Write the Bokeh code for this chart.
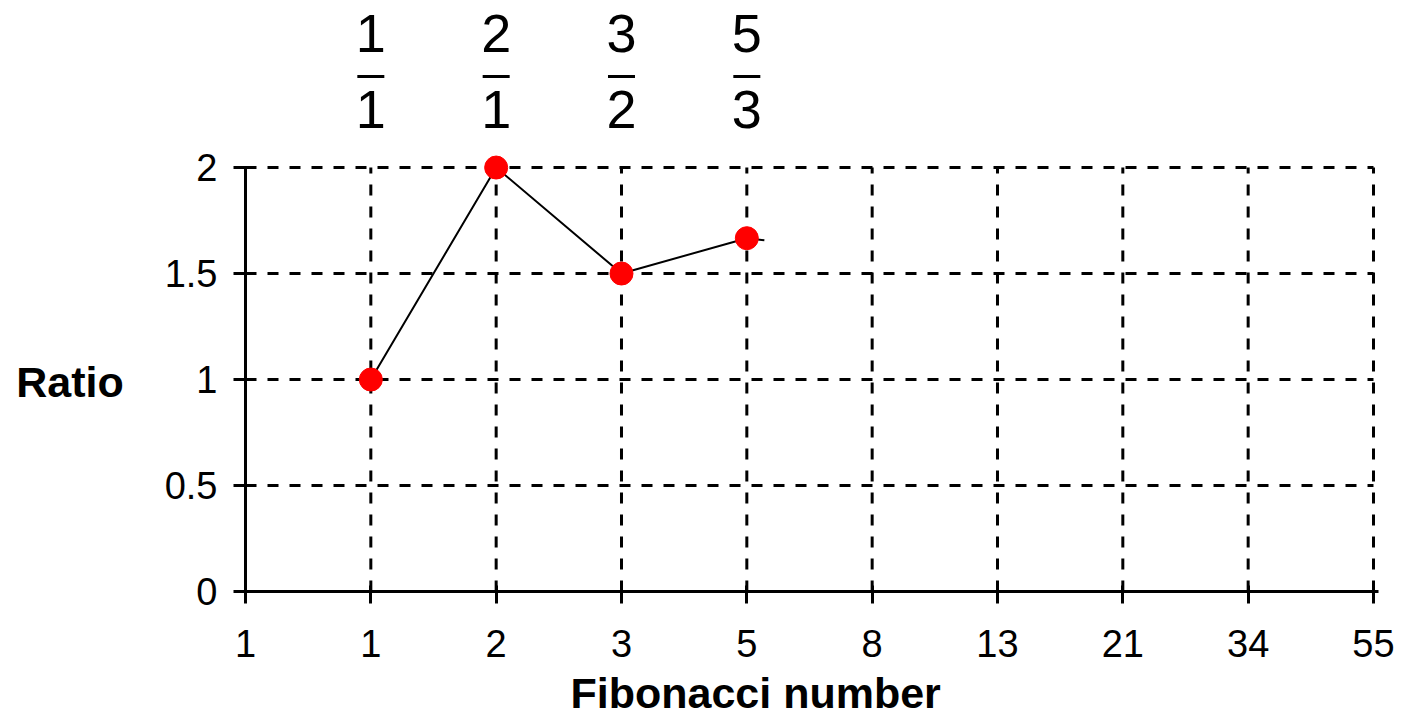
from bokeh.plotting import figure
from bokeh.models import Range1d, FixedTicker, Title
from bokeh.core.properties import value
from bokeh.embed import file_html
from bokeh.resources import INLINE

# Fibonacci sequence shown along the x axis (one slot per term)
fib_labels = ["1", "1", "2", "3", "5", "8", "13", "21", "34", "55"]
x_index = list(range(len(fib_labels)))

# Consecutive-term ratios plotted so far: F(n+1)/F(n)
numerators = [1, 2, 3, 5]
denominators = [1, 1, 2, 3]
point_index = [1, 2, 3, 4]
ratios = [n / d for n, d in zip(numerators, denominators)]

# the line is being drawn on toward the next ratio, 8/5
next_num, next_den = 8, 5
stub = 0.14  # fraction of the next segment already drawn

y_ticks = [0, 0.5, 1, 1.5, 2]
y_tick_labels = ["0", "0.5", "1", "1.5", "2"]

FONT = "Liberation Sans"

p = figure(width=1402, height=723, output_backend="svg", toolbar_location=None,
           x_range=Range1d(0, 9.04), y_range=Range1d(0, 2.788),
           min_border_left=245, min_border_right=24,
           min_border_top=0, min_border_bottom=132)
p.outline_line_color = None
p.background_fill_color = "white"
p.border_fill_color = "white"
p.xgrid.visible = False
p.ygrid.visible = False

# dashed grid: horizontal lines at each y tick, vertical at each Fibonacci slot
p.segment(x0=x_index[0], x1=x_index[-1], y0=y_ticks, y1=y_ticks,
          line_color="black", line_width=3, line_dash="11 11")
p.segment(x0=x_index[1:], x1=x_index[1:], y0=y_ticks[0], y1=y_ticks[-1],
          line_color="black", line_width=3, line_dash="11 11")

# ratio line, with the partial segment heading to the next ratio
next_ratio = next_num / next_den
line_x = point_index + [point_index[-1] + stub]
line_y = ratios + [ratios[-1] + stub * (next_ratio - ratios[-1])]
p.line(line_x, line_y, line_color="black", line_width=2)
p.scatter(point_index, ratios, size=23, fill_color="#ff0000", line_color="#ff0000")

# fractions written above each plotted point
frac_top = 2.63
frac_bar = 2.43
frac_bottom = 2.275
p.text(x=point_index, y=[frac_top] * len(point_index), text=[str(n) for n in numerators],
       text_align="center", text_baseline="middle", text_font=value(FONT),
       text_font_size="54px", text_color="black")
p.rect(x=point_index, y=[frac_bar] * len(point_index), width=27, height=3,
       width_units="screen", height_units="screen", fill_color="black", line_color=None)
p.text(x=point_index, y=[frac_bottom] * len(point_index), text=[str(d) for d in denominators],
       text_align="center", text_baseline="middle", text_font=value(FONT),
       text_font_size="54px", text_color="black")

# axes
xa = p.xaxis[0]
xa.ticker = FixedTicker(ticks=x_index)
xa.major_label_overrides = {i: s for i, s in zip(x_index, fib_labels)}
xa.bounds = (-0.08, 9.04)
ya = p.yaxis[0]
ya.ticker = FixedTicker(ticks=y_ticks)
ya.major_label_overrides = {t: s for t, s in zip(y_ticks, y_tick_labels)}
ya.bounds = (0, 2)
for ax in (xa, ya):
    ax.axis_line_color = "black"
    ax.axis_line_width = 3
    ax.major_tick_line_color = "black"
    ax.major_tick_line_width = 3
    ax.major_tick_in = 6
    ax.major_tick_out = 12
    ax.minor_tick_line_color = None
    ax.major_label_text_font = FONT
    ax.major_label_text_font_size = "38px"
    ax.major_label_text_color = "black"
xa.major_label_standoff = 26
ya.major_label_standoff = 16

# y-axis title, written horizontally beside the tick labels; the leading
# blank lines lower it from the middle of the frame to the level of y = 1
ya.axis_label = "\n\n\nRatio"
ya.axis_label_text_font = FONT
ya.axis_label_text_font_size = "43px"
ya.axis_label_text_font_style = "bold"
ya.axis_label_text_color = "black"
ya.axis_label_text_line_height = 1.19
ya.axis_label_standoff = 38
if "axis_label_orientation" in ya.properties():
    ya.axis_label_orientation = "horizontal"

# x-axis title
p.add_layout(Title(text="Fibonacci number", align="left", offset=325,
                   text_font=FONT, text_font_size="43px", text_font_style="bold",
                   text_color="black", standoff=14), "below")

open("out.html", "w").write(file_html(p, INLINE))
